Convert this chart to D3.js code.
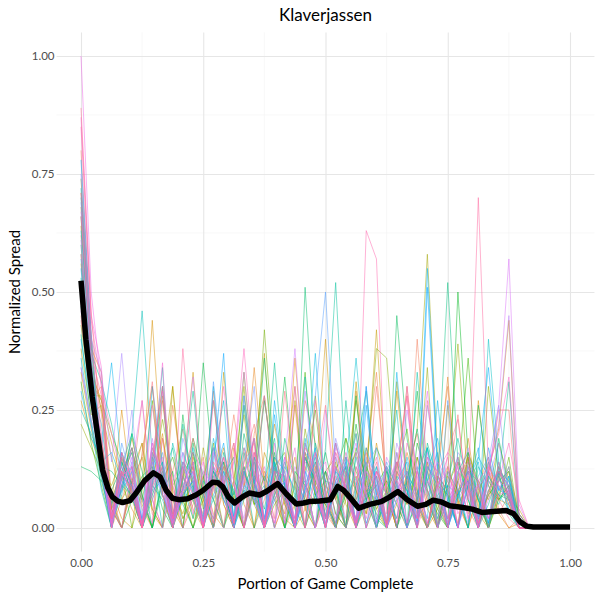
<!DOCTYPE html>
<html>
<head>
<meta charset="utf-8">
<script src="https://cdn.jsdelivr.net/npm/d3@7"></script>
<style>
body { margin: 0; background: #fff; }
text { font-family: Lato, "Open Sans", sans-serif; }
</style>
</head>
<body>
<div id="chart"></div>
<script>
// portion of the game (x), shared by every game line
const portion = [0, .0208, .0417, .0625, .0833, .1042, .125, .1458, .1667, .1875, .2083, .2292, .25, .2708, .2917,
    .3125, .3333, .3542, .375, .3958, .4167, .4375, .4583, .4792, .5, .5208, .5417, .5625, .5833, .6042,
    .625, .6458, .6667, .6875, .7083, .7292, .75, .7708, .7917, .8125, .8333, .8542, .875, .8958, .9167]

// normalized spread per game, one row per game
const games = [
    [.80,.41,.24,.04,.00, .09,.27,.06,.00,.12, .21,.08,.03,.29,.05, .00,.14,.22,.09,.00, .06,.26,.04,.00,.10, .18,.07,.00,.05,.30, .09,.02,.12,.20,.06, .00,.08,.24,.04,.00, .11,.25,.25,.00,.00],
    [.62,.30,.11,.00,.06, .13,.04,.00,.27,.09, .02,.07,.15,.00,.08, .24,.10,.00,.06,.12, .05,.00,.16,.09,.03, .00,.11,.20,.08,.00, .07,.14,.05,.40,.12, .00,.06,.10,.03,.09, .15,.04,.00,.02,.00],
    [.45,.27,.30,.07,.00, .10,.18,.03,.00,.26, .11,.04,.00,.08,.15, .06,.00,.20,.28,.09, .00,.05,.27,.18,.04, .00,.09,.06,.14,.33, .07,.00,.10,.05,.00, .13,.30,.06,.00,.08, .12,.03,.07,.00,.00],
    [.71,.38,.33,.02,.09, .04,.00,.14,.30,.07, .00,.05,.11,.03,.00, .17,.09,.34,.10,.00, .06,.15,.00,.08,.12, .03,.00,.29,.07,.11, .00,.05,.16,.08,.00, .10,.32,.05,.00,.07, .14,.06,.05,.00,.00],
    [.33,.21,.12,.05,.25, .07,.00,.10,.20,.04, .00,.15,.06,.00,.09, .18,.05,.00,.12,.08, .03,.36,.10,.00,.06, .14,.00,.07,.17,.05, .00,.10,.30,.08,.00, .04,.13,.06,.00,.27, .09,.03,.00,.01,.00],
    [.56,.33,.27,.18,.10, .19,.09,.44,.12,.00, .06,.13,.00,.09,.17, .05,.00,.11,.07,.22, .10,.00,.04,.14,.06, .00,.12,.08,.03,.18, .07,.00,.09,.15,.04, .00,.11,.07,.19,.05, .00,.08,.12,.03,.00],
    [.27,.19,.13,.08,.02, .00,.16,.30,.07,.00, .11,.33,.06,.00,.13, .05,.08,.00,.16,.10, .02,.00,.18,.09,.40, .07,.00,.13,.06,.11, .00,.29,.09,.03,.14, .06,.00,.10,.15,.04, .12,.21,.44,.02,.00],
    [.68,.36,.13,.00,.11, .16,.05,.00,.19,.08, .03,.11,.05,.00,.33, .10,.06,.14,.00,.07, .12,.30,.04,.00,.09, .06,.13,.00,.10,.42, .08,.00,.12,.07,.14, .00,.26,.05,.09,.00, .07,.18,.10,.00,.00],
    [.50,.28,.28,.04,.15, .09,.00,.07,.13,.30, .06,.00,.11,.17,.05, .00,.09,.14,.37,.07, .00,.10,.05,.13,.02, .08,.00,.31,.10,.04, .00,.08,.05,.12,.06, .00,.09,.14,.08,.03, .00,.11,.06,.04,.00],
    [.38,.24,.26,.06,.00, .12,.18,.04,.00,.30, .08,.00,.06,.11,.14, .07,.00,.09,.28,.10, .00,.27,.07,.00,.12, .15,.05,.00,.13,.08, .00,.31,.11,.04,.00, .09,.07,.00,.16,.10, .06,.13,.08,.00,.00],
    [.64,.35,.25,.15,.06, .10,.15,.04,.00,.09, .13,.02,.17,.06,.00, .10,.24,.07,.00,.13, .16,.04,.00,.28,.08, .00,.06,.11,.03,.12, .07,.00,.10,.21,.58, .15,.00,.08,.10,.06, .00,.14,.06,.02,.00],
    [.22,.17,.12,.09,.15, .06,.00,.12,.28,.06, .00,.16,.07,.11,.00, .10,.30,.05,.00,.13, .09,.00,.16,.07,.05, .00,.10,.27,.12,.04, .08,.00,.11,.06,.34, .00,.12,.39,.09,.00, .12,.06,.09,.00,.00],
    [.58,.31,.27,.20,.14, .07,.00,.09,.23,.11, .02,.06,.00,.18,.08, .00,.12,.05,.07,.15, .09,.00,.21,.09,.06, .00,.08,.17,.11,.38, .36,.10,.00,.06,.12, .05,.00,.14,.10,.00, .30,.11,.05,.00,.00],
    [.43,.27,.19,.04,.00, .10,.06,.17,.11,.00, .07,.13,.00,.12,.08, .00,.26,.09,.42,.14, .05,.00,.15,.07,.10, .00,.19,.12,.06,.00, .08,.13,.21,.05,.00, .10,.07,.00,.16,.09, .00,.07,.13,.00,.00],
    [.74,.40,.14,.06,.12, .00,.08,.27,.07,.00, .11,.16,.04,.09,.00, .06,.33,.10,.00,.05, .08,.00,.12,.25,.07, .00,.11,.16,.08,.03, .00,.09,.06,.00,.13, .10,.02,.06,.15,.00, .08,.06,.15,.01,.00],
    [.31,.18,.09,.00,.12, .17,.07,.00,.10,.15, .06,.00,.09,.27,.08, .00,.13,.05,.11,.06, .00,.09,.33,.07,.00, .12,.19,.08,.00,.06, .10,.05,.00,.15,.08, .03,.00,.10,.36,.07, .00,.06,.09,.03,.00],
    [.66,.34,.12,.00,.09, .17,.06,.00,.10,.06, .08,.19,.11,.00,.14, .06,.00,.08,.27,.13, .07,.00,.15,.10,.05, .01,.07,.22,.09,.00, .12,.08,.00,.18,.10, .04,.00,.50,.15,.02, .07,.10,.12,.00,.00],
    [.49,.29,.17,.05,.00, .06,.11,.13,.04,.00, .24,.07,.35,.12,.08, .00,.16,.07,.02,.10, .32,.09,.00,.07,.12, .03,.00,.28,.06,.09, .13,.00,.06,.29,.08, .00,.12,.08,.00,.26, .10,.06,.08,.00,.00],
    [.13,.12,.10,.08,.13, .20,.07,.00,.08,.12, .00,.18,.07,.02,.11, .15,.00,.09,.36,.12, .00,.12,.09,.05,.16, .06,.00,.09,.14,.02, .00,.45,.19,.06,.00, .11,.08,.00,.14,.06, .00,.19,.08,.02,.00],
    [.60,.32,.13,.12,.09, .07,.00,.16,.11,.03, .06,.14,.00,.12,.08, .00,.20,.10,.04,.16, .07,.00,.51,.16,.02, .08,.13,.00,.06,.17, .12,.00,.10,.21,.07, .00,.09,.15,.06,.00, .11,.07,.06,.00,.00],
    [.41,.23,.10,.02,.08, .20,.12,.00,.11,.17, .05,.00,.07,.09,.14, .00,.12,.06,.09,.00, .19,.10,.06,.00,.12, .08,.00,.16,.29,.07, .00,.12,.08,.00,.18, .10,.52,.14,.06,.00, .08,.12,.03,.00,.00],
    [.53,.27,.15,.01,.14, .09,.00,.06,.12,.02, .10,.29,.07,.00,.16, .07,.13,.00,.08,.35, .09,.00,.07,.12,.06, .00,.27,.06,.11,.00, .13,.09,.00,.06,.17, .08,.00,.12,.16,.06, .00,.10,.31,.01,.00],
    [.70,.37,.31,.22,.11, .06,.02,.08,.14,.00, .22,.09,.01,.06,.12, .08,.00,.15,.10,.19, .00,.07,.10,.00,.17, .52,.11,.00,.08,.06, .00,.14,.07,.13,.00, .06,.10,.19,.08,.00, .05,.12,.07,.00,.00],
    [.25,.20,.14,.02,.16, .08,.00,.11,.34,.01, .07,.10,.00,.13,.06, .02,.28,.11,.00,.08, .14,.07,.00,.18,.10, .09,.00,.15,.06,.00, .08,.25,.00,.33,.10, .02,.09,.07,.00,.13, .09,.05,.11,.00,.00],
    [.72,.39,.12,.01,.07, .20,.46,.15,.00,.18, .09,.02,.10,.06,.00, .08,.17,.10,.00,.14, .06,.00,.32,.08,.00, .10,.15,.01,.07,.09, .00,.16,.06,.02,.13, .09,.00,.07,.12,.10, .00,.12,.10,.03,.00],
    [.36,.22,.08,.00,.12, .16,.01,.09,.06,.00, .14,.11,.02,.30,.08, .00,.06,.10,.01,.13, .07,.00,.09,.15,.02, .18,.10,.00,.07,.13, .01,.11,.08,.00,.17, .06,.02,.08,.12,.00, .40,.14,.06,.00,.00],
    [.47,.30,.22,.05,.12, .07,.00,.10,.14,.02, .06,.09,.00,.15,.27, .01,.08,.06,.00,.12, .11,.00,.19,.07,.00, .09,.13,.36,.12,.00, .07,.10,.00,.12,.17, .00,.06,.08,.00,.15, .11,.07,.04,.00,.00],
    [.57,.33,.14,.16,.10, .07,.00,.15,.11,.02, .08,.17,.00,.12,.06, .01,.26,.09,.00,.07, .13,.08,.00,.16,.10, .01,.08,.20,.00,.13, .07,.02,.15,.06,.00, .07,.09,.00,.13,.06, .01,.13,.06,.00,.00],
    [.40,.26,.11,.00,.16, .09,.02,.07,.13,.00, .11,.06,.01,.19,.10, .00,.08,.15,.02,.14, .07,.00,.09,.37,.06, .00,.15,.10,.01,.07, .13,.00,.11,.08,.02, .27,.06,.00,.09,.14, .00,.09,.06,.00,.00],
    [.63,.35,.17,.35,.13, .08,.00,.09,.30,.01, .16,.10,.00,.07,.12, .02,.12,.06,.00,.27, .09,.01,.08,.14,.00, .13,.07,.02,.06,.11, .00,.33,.09,.01,.10, .16,.00,.07,.12,.02, .14,.08,.07,.00,.00],
    [.29,.19,.15,.01,.09, .13,.00,.14,.07,.02, .08,.12,.00,.17,.09, .01,.11,.19,.00,.06, .10,.00,.15,.08,.00, .10,.13,.01,.30,.07, .00,.08,.12,.02,.55, .13,.06,.00,.09,.17, .01,.12,.09,.00,.00],
    [.55,.31,.16,.03,.08, .12,.00,.08,.10,.02, .14,.07,.00,.10,.18, .02,.07,.11,.00,.24, .08,.00,.12,.06,.01, .09,.14,.00,.17,.10, .00,.06,.08,.01,.12, .19,.07,.00,.10,.15, .34,.11,.04,.00,.00],
    [.78,.41,.15,.00,.11, .09,.01,.30,.13,.00, .07,.10,.02,.13,.37, .00,.09,.07,.01,.15, .12,.00,.08,.17,.02, .12,.09,.00,.26,.06, .01,.10,.14,.00,.51, .12,.00,.07,.10,.02, .17,.08,.11,.00,.00],
    [.34,.22,.13,.00,.18, .10,.02,.09,.16,.00, .13,.08,.01,.31,.11, .00,.07,.14,.02,.12, .06,.00,.17,.28,.50, .12,.00,.08,.30,.01, .14,.09,.00,.07,.12, .00,.27,.08,.01,.11, .15,.08,.10,.00,.00],
    [.69,.36,.12,.01,.08, .14,.00,.12,.07,.02, .19,.11,.00,.09,.06, .01,.14,.30,.00,.07, .10,.02,.16,.13,.00, .10,.07,.01,.13,.17, .00,.08,.09,.02,.26, .12,.00,.06,.10,.01, .14,.26,.07,.00,.00],
    [.52,.29,.14,.00,.10, .25,.02,.16,.09,.00, .08,.12,.01,.13,.07, .00,.28,.10,.02,.09, .15,.00,.12,.08,.01, .19,.11,.00,.15,.11, .02,.09,.07,.00,.14, .12,.01,.16,.13,.00, .10,.08,.13,.00,.00],
    [.75,.40,.33,.14,.37, .12,.00,.18,.11,.01, .09,.14,.00,.11,.08, .02,.10,.07,.00,.13, .08,.00,.18,.11,.02, .15,.09,.00,.12,.09, .01,.18,.11,.00,.15, .09,.02,.12,.07,.00, .10,.18,.07,.00,.00],
    [.61,.33,.15,.01,.11, .13,.00,.14,.07,.01, .08,.10,.00,.17,.09, .01,.11,.19,.00,.06, .10,.01,.29,.08,.00, .17,.13,.01,.09,.07, .00,.08,.12,.02,.13, .10,.00,.09,.17,.02, .12,.22,.45,.02,.00],
    [.46,.28,.20,.02,.09, .15,.00,.19,.08,.01, .12,.32,.07,.00,.11, .09,.02,.16,.09,.00, .14,.38,.10,.00,.08, .16,.07,.01,.14,.10, .00,.06,.25,.12,.01, .09,.12,.00,.07,.09, .02,.14,.06,.00,.00],
    [.67,.35,.13,.00,.12, .07,.01,.17,.10,.00, .08,.16,.12,.01,.15, .10,.00,.07,.28,.09, .01,.13,.08,.00,.25, .10,.02,.13,.07,.00, .15,.10,.01,.09,.16, .00,.07,.13,.02,.09, .11,.26,.57,.05,.00],
    [.34,.23,.16,.05,.00, .13,.27,.06,.00,.10, .16,.03,.12,.09,.00, .14,.33,.11,.01,.08, .12,.00,.09,.16,.06, .00,.11,.18,.07,.01, .13,.06,.00,.12,.29, .07,.01,.14,.09,.00, .06,.10,.08,.00,.00],
    [1.00,.50,.30,.02,.13, .09,.00,.10,.15,.01, .07,.12,.00,.16,.08, .02,.11,.06,.00,.18, .01,.30,.10,.00,.07, .13,.08,.02,.12,.08, .00,.16,.06,.01,.09, .14,.10,.00,.13,.10, .02,.07,.08,.00,.00],
    [.58,.32,.15,.00,.10, .17,.06,.01,.29,.09, .00,.07,.14,.02,.10, .18,.00,.09,.13,.01, .08,.17,.00,.11,.14, .02,.09,.16,.00,.12, .07,.01,.30,.10,.00, .09,.13,.03,.08,.00, .12,.09,.07,.00,.00],
    [.87,.45,.34,.01,.15, .08,.00,.11,.35,.02, .08,.13,.00,.27,.09, .01,.12,.16,.00,.09, .07,.02,.14,.11,.00, .18,.08,.01,.07,.12, .00,.13,.28,.02,.10, .06,.00,.15,.09,.01, .08,.12,.09,.00,.00],
    [.48,.30,.12,.03,.16, .10,.00,.18,.09,.02, .13,.07,.00,.09,.30, .10,.00,.12,.07,.01, .15,.11,.00,.27,.08, .01,.15,.11,.00,.07, .09,.14,.01,.12,.08, .00,.16,.13,.02,.10, .13,.20,.32,.03,.00],
    [.71,.40,.17,.02,.12, .07,.00,.26,.11,.02, .09,.14,.00,.13,.09, .14,.38,.13,.00,.10, .07,.01,.15,.12,.00, .08,.16,.09,.02,.12, .09,.00,.18,.11,.01, .09,.15,.00,.12,.07, .02,.10,.18,.06,.00],
    [.85,.44,.30,.20,.11, .13,.00,.08,.19,.02, .14,.10,.00,.09,.15, .01,.17,.08,.00,.12, .11,.02,.07,.16,.00, .13,.09,.00,.63,.57, .03,.10,.07,.00,.15, .12,.02,.08,.11,.00, .13,.09,.05,.00,.00],
    [.66,.37,.28,.00,.16, .10,.01,.09,.13,.00, .38,.12,.02,.10,.07, .00,.14,.18,.01,.10, .08,.00,.17,.13,.02, .11,.07,.00,.09,.15, .01,.14,.10,.00,.07, .12,.16,.23,.06,.70, .12,.06,.02,.00,.00],
    [.89,.46,.19,.02,.12, .08,.00,.15,.30,.03, .11,.07,.00,.14,.10, .01,.09,.19,.00,.12, .06,.01,.13,.09,.00, .16,.11,.01,.08,.14, .00,.12,.07,.02,.27, .09,.00,.11,.14,.01, .07,.13,.06,.00,.00],
    [.44,.27,.18,.04,.00, .09,.15,.31,.07,.00, .11,.19,.08,.01,.13, .09,.00,.16,.11,.02, .29,.09,.00,.12,.26, .06,.00,.10,.16,.08, .01,.12,.28,.06,.00, .11,.08,.01,.15,.09, .00,.12,.07,.00,.00]
]

// average spread over all games (thick black line)
const meanPortion = [0, .01, .023, .035, .044, .055, .064, .075, .085, .1, .112, .13, .148, .162, .174, .187, .2, .218, .235,
    .25, .269, .28, .29, .302, .314, .33, .344, .355, .365, .38, .402, .42, .44, .455, .467, .488, .51, .525, .537,
    .549, .568, .59, .614, .63, .648, .667, .688, .705, .72, .737, .754, .778, .8, .82, .843, .87, .885, .898, .911, .925, .95, 1]
const meanSpread = [.524, .40, .278, .19, .123, .085, .066, .057, .054, .058, .073, .10, .117, .108, .080, .063, .060, .062, .07,
    .08, .097, .096, .087, .065, .053, .066, .074, .072, .070, .078, .094, .072, .051, .053, .056, .057, .060, .088, .080,
    .066, .042, .050, .056, .065, .077, .060, .046, .050, .059, .055, .047, .044, .040, .033, .035, .037, .030, .013, .004, .002, .002, .002]

const xTicks = [0, .25, .5, .75, 1]
const yTicks = [0, .25, .5, .75, 1]
const xMinor = [.125, .375, .625, .875]
const yMinor = [.125, .375, .625, .875]

// ggplot-like hue palette (polar LUV, c = 100, l = 65)
function hueColor(h) {
    const L = 65, C = 100, hr = h * Math.PI / 180
    const u = C * Math.cos(hr), v = C * Math.sin(hr)
    const Y = Math.pow((L + 16) / 116, 3)
    const up = u / (13 * L) + 0.1978398, vp = v / (13 * L) + 0.4683363
    const X = 9 * Y * up / (4 * vp)
    const Z = Y * (12 - 3 * up - 20 * vp) / (4 * vp)
    const lin = [3.240479 * X - 1.537150 * Y - 0.498535 * Z,
        -0.969256 * X + 1.875992 * Y + 0.041556 * Z,
        0.055648 * X - 0.204043 * Y + 1.057311 * Z]
    const rgb = lin.map(c => {
        const g = c <= 0.0031308 ? 12.92 * c : 1.055 * Math.pow(c, 1 / 2.4) - 0.055
        return Math.round(255 * Math.max(0, Math.min(1, g)))
    })
    return d3.rgb(rgb[0], rgb[1], rgb[2]).formatHex()
}

const x = d3.scaleLinear().domain([0, 1]).range([81, 570])
const y = d3.scaleLinear().domain([0, 1]).range([528, 56])
const panelLeft = x(-0.05), panelRight = x(1.05), panelTop = y(1.05), panelBottom = y(-0.05)

const svg = d3.select("#chart").append("svg")
    .attr("width", 600)
    .attr("height", 600)

// minor grid
svg.append("g")
    .attr("class", "grid")
    .selectAll("line")
    .data(xMinor).join("line")
    .attr("x1", d => x(d)).attr("x2", d => x(d))
    .attr("y1", panelTop).attr("y2", panelBottom)
    .attr("stroke", "#f4f4f4").attr("stroke-width", 0.6)
svg.append("g")
    .attr("class", "grid")
    .selectAll("line")
    .data(yMinor).join("line")
    .attr("x1", panelLeft).attr("x2", panelRight)
    .attr("y1", d => y(d)).attr("y2", d => y(d))
    .attr("stroke", "#f4f4f4").attr("stroke-width", 0.6)

// major grid + tick labels
const xAxis = svg.append("g")
    .attr("class", "x axis")
    .attr("transform", `translate(0, ${panelBottom})`)
    .call(d3.axisBottom(x).tickValues(xTicks).tickSize(-(panelBottom - panelTop)).tickPadding(7).tickFormat(d3.format(".2f")))
const yAxis = svg.append("g")
    .attr("class", "y axis")
    .attr("transform", `translate(${panelLeft}, 0)`)
    .call(d3.axisLeft(y).tickValues(yTicks).tickSize(-(panelRight - panelLeft)).tickPadding(2).tickFormat(d3.format(".2f")))

;[xAxis, yAxis].forEach(axis => {
    axis.select(".domain").remove()
    axis.selectAll(".tick line").attr("stroke", "#e6e6e6").attr("stroke-width", 1.1)
    axis.selectAll(".tick text").attr("fill", "#4d4d4d").style("font-size", "11.5px")
})

// game lines
const line = d3.line()
    .x((d, i) => x(portion[i]))
    .y(d => y(d))

svg.append("g")
    .attr("class", "games")
    .selectAll("path")
    .data(games).join("path")
    .attr("fill", "none")
    .attr("stroke", (d, i) => hueColor(15 + 360 * i / games.length))
    .attr("stroke-opacity", 0.5)
    .attr("stroke-width", 1)
    .attr("stroke-linejoin", "round")
    .attr("d", line)

// average line
const meanLine = d3.line()
    .x((d, i) => x(meanPortion[i]))
    .y(d => y(d))

svg.append("path")
    .datum(meanSpread)
    .attr("class", "mean-line")
    .attr("fill", "none")
    .attr("stroke", "#000")
    .attr("stroke-width", 5.5)
    .attr("stroke-linejoin", "round")
    .attr("d", meanLine)

// titles
svg.append("text")
    .attr("x", (panelLeft + panelRight) / 2).attr("y", 21)
    .attr("text-anchor", "middle")
    .style("font-size", "17px")
    .text("Klaverjassen")
svg.append("text")
    .attr("x", (panelLeft + panelRight) / 2).attr("y", 589)
    .attr("text-anchor", "middle")
    .style("font-size", "15px")
    .text("Portion of Game Complete")
svg.append("text")
    .attr("transform", `translate(20, ${(panelTop + panelBottom) / 2}) rotate(-90)`)
    .attr("text-anchor", "middle")
    .style("font-size", "15px")
    .text("Normalized Spread")
</script>
</body>
</html>
